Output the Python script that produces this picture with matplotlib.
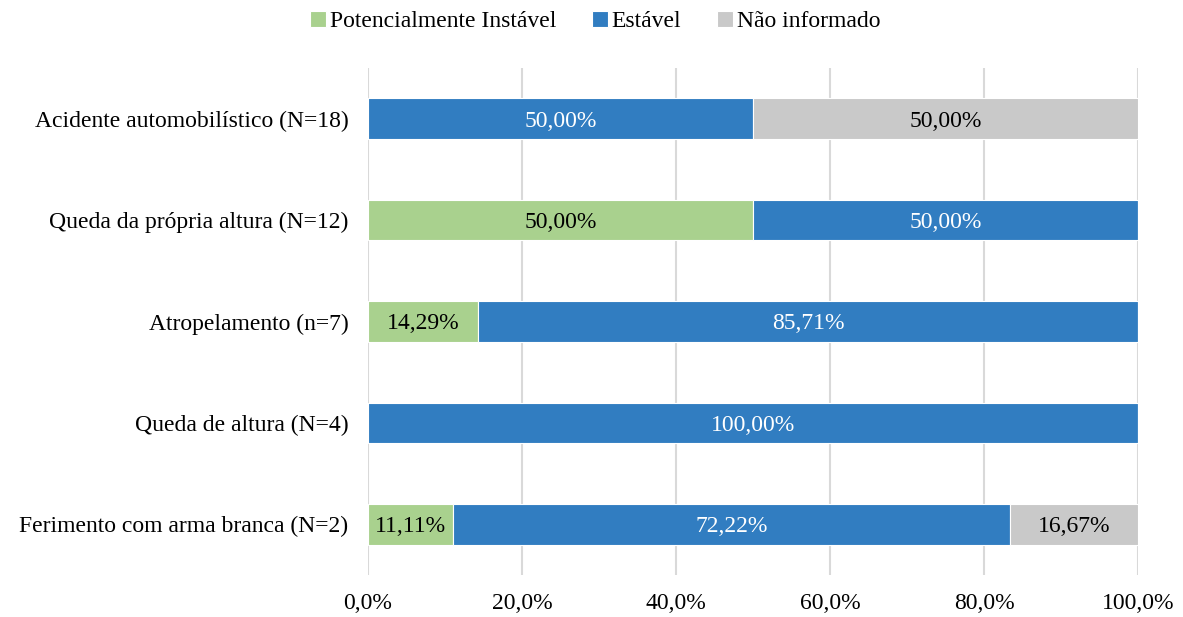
import numpy as np
import matplotlib.pyplot as plt
from matplotlib.ticker import FuncFormatter

categories = ['Acidente automobilístico (N=18)',
              'Queda da própria altura (N=12)',
              'Atropelamento (n=7)',
              'Queda de altura (N=4)',
              'Ferimento com arma branca (N=2)']
instavel = [0.0, 50.00, 14.29, 0.0, 11.11]
estavel = [50.00, 50.00, 85.71, 100.00, 72.22]
nao_informado = [50.00, 0.0, 0.0, 0.0, 16.67]

series = [('Potencialmente Instável', instavel, '#A9D18E', 'black'),
          ('Estável', estavel, '#317DC1', 'white'),
          ('Não informado', nao_informado, '#C9C9C9', 'black')]

plt.rcParams['font.family'] = ['Liberation Serif', 'DejaVu Serif']
fs = 17

fig = plt.figure(figsize=(11.83, 6.17), dpi=100)
ax = fig.add_axes([0.311, 0.068, 0.651, 0.822])

y = np.arange(len(categories))
left = np.zeros(len(categories))
for name, vals, color, txt_color in series:
    vals = np.array(vals)
    bars = ax.barh(y, vals, left=left, height=0.4, color=color,
                   edgecolor='white', linewidth=0.8, label=name, zorder=2)
    for b, v in zip(bars, vals):
        if v > 0:
            ax.text(b.get_x() + b.get_width() / 2, b.get_y() + b.get_height() / 2,
                    '{:.2f}%'.format(v).replace('.', ','),
                    ha='center', va='center_baseline', color=txt_color,
                    fontsize=fs, zorder=3)
    left += vals

ax.set_xlim(0, 100)
ax.set_ylim(len(categories) - 0.5, -0.5)
ax.set_yticks(y)
ax.set_yticklabels(categories, fontsize=fs)
ax.set_xticks(np.arange(0, 101, 20))
ax.xaxis.set_major_formatter(FuncFormatter(lambda v, p: '{:.1f}%'.format(v).replace('.', ',')))
ax.tick_params(axis='x', labelsize=fs, length=0, pad=13)
ax.tick_params(axis='y', length=0, pad=14)
ax.grid(axis='x', color='#D9D9D9', linewidth=1.5, zorder=0)
ax.set_axisbelow(True)
for s in ax.spines.values():
    s.set_visible(False)

fig.legend(loc='upper center', bbox_to_anchor=(0.503, 1.017), ncol=3, frameon=False,
           fontsize=fs, handlelength=0.7, handleheight=0.7, handletextpad=0.15,
           columnspacing=1.5)

fig.savefig('out.png', dpi=100)
